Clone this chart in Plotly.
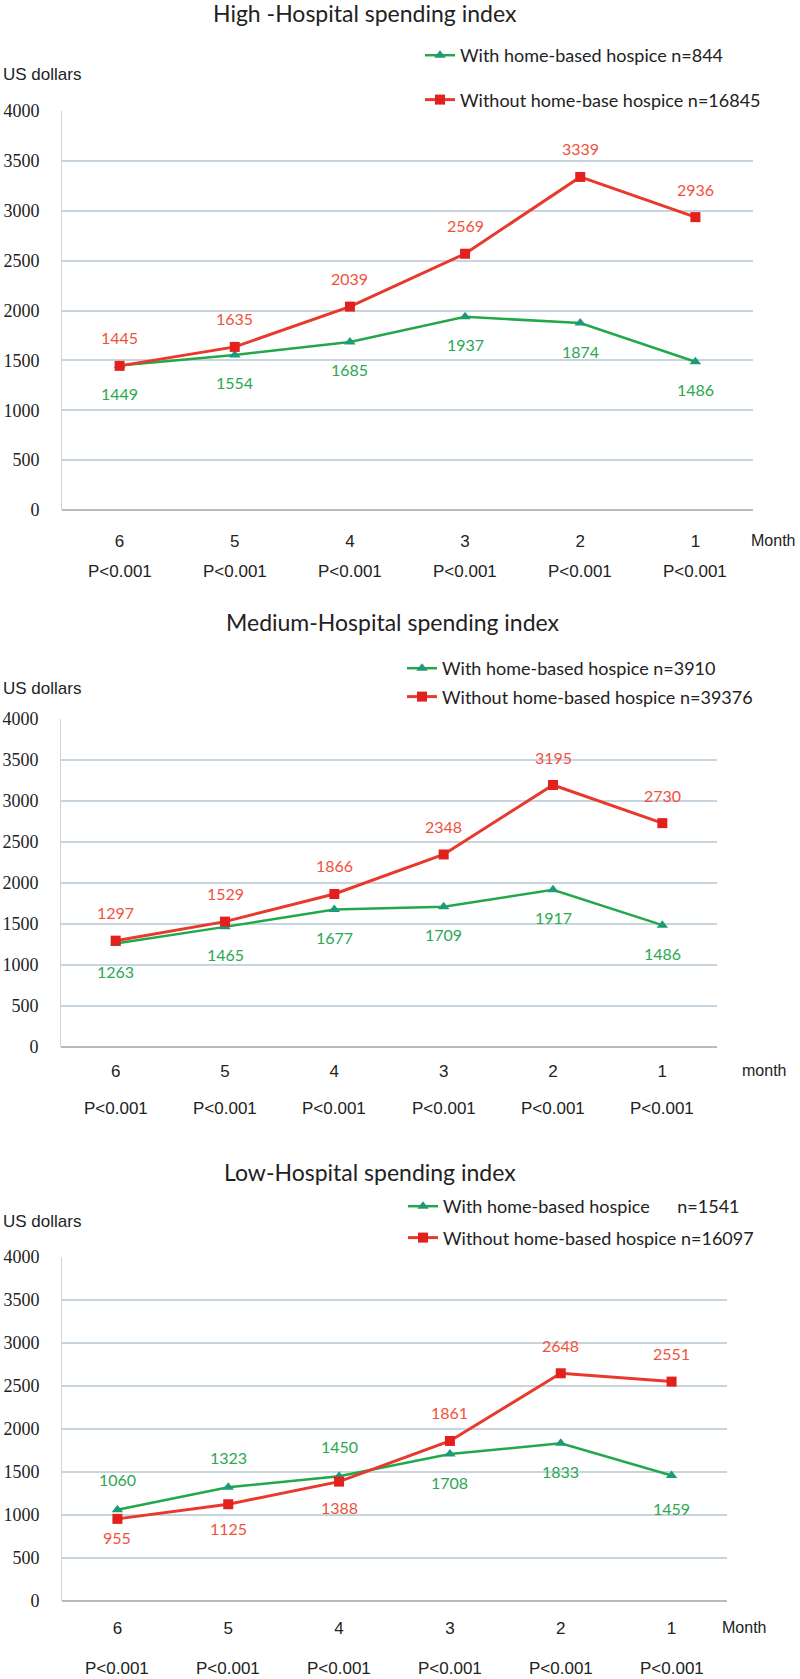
import plotly.graph_objects as go

# ---------------- data ----------------
months = ["6", "5", "4", "3", "2", "1"]
p_values = ["P<0.001", "P<0.001", "P<0.001", "P<0.001", "P<0.001", "P<0.001"]

high_with = [1449, 1554, 1685, 1937, 1874, 1486]
high_without = [1445, 1635, 2039, 2569, 3339, 2936]

med_with = [1263, 1465, 1677, 1709, 1917, 1486]
med_without = [1297, 1529, 1866, 2348, 3195, 2730]

low_with = [1060, 1323, 1450, 1708, 1833, 1459]
low_without = [955, 1125, 1388, 1861, 2648, 2551]

titles = ["High -Hospital spending index", "Medium-Hospital spending index", "Low-Hospital spending index"]
with_names = ["With home-based hospice n=844", "With home-based hospice n=3910",
              "With home-based hospice&#160;&#160;&#160;&#160;&#160;&#160;n=1541"]
without_names = ["Without home-base hospice n=16845", "Without home-based hospice n=39376",
                 "Without home-based hospice n=16097"]
month_words = ["Month", "month", "Month"]

# label offsets in px (+ above, - below)
with_shift = [[-28] * 6, [-28] * 6, [30, 30, 30, -28, -28, -33]]
without_shift = [[28] * 6, [28] * 6, [-19, -24, -26, 28, 28, 28]]

# ---------------- layout geometry (px) ----------------
W, H = 800, 1679
panels = [
    dict(l=62, r=753, top=111, bottom=510, title_y=13, title_x=365, usd_y=75,
         tick_y=540, p_y=571, month_x=749, leg_x=420, leg_top=37, leg_gap=18, standoff=19),
    dict(l=61, r=717, top=719, bottom=1047, title_y=622, title_x=393, usd_y=688,
         tick_y=1070, p_y=1108, month_x=740, leg_x=402, leg_top=650, leg_gap=2, standoff=12),
    dict(l=62, r=727, top=1257, bottom=1601, title_y=1172, title_x=370, usd_y=1221,
         tick_y=1627, p_y=1668, month_x=720, leg_x=403, leg_top=1188, leg_gap=5, standoff=15),
]
series = [(high_with, high_without), (med_with, med_without), (low_with, low_without)]

GREEN_LINE = "#22a84a"
GREEN_MARK = "#1f9a78"
GREEN_TEXT = "#2aa852"
RED_LINE = "#e8392c"
RED_MARK = "#e2201c"
RED_TEXT = "#f0523e"

LABEL_FONT = "Lato, Open Sans, sans-serif"
SANS = "Liberation Sans, Arial, sans-serif"
SERIF = "Liberation Serif, Times New Roman, serif"

fig = go.Figure()
annotations = []

for i, (p, (w_vals, wo_vals)) in enumerate(zip(panels, series)):
    sfx = "" if i == 0 else str(i + 1)
    xa, ya = "x" + sfx, "y" + sfx
    leg = "legend" + sfx

    fig.add_trace(go.Scatter(
        x=months, y=w_vals, xaxis=xa, yaxis=ya, mode="lines+markers",
        name=with_names[i], legend=leg, legendgroup=f"w{i}",
        line=dict(color=GREEN_LINE, width=2.5),
        marker=dict(symbol="triangle-up", size=10, color=GREEN_MARK),
    ))
    fig.add_trace(go.Scatter(
        x=months, y=wo_vals, xaxis=xa, yaxis=ya, mode="lines+markers",
        name=without_names[i], legend=leg, legendgroup=f"wo{i}",
        line=dict(color=RED_LINE, width=3),
        marker=dict(symbol="square", size=10, color=RED_MARK),
    ))

    xdom = [p["l"] / W, p["r"] / W]
    ydom = [1 - p["bottom"] / H, 1 - p["top"] / H]
    fig.update_layout(**{
        ("xaxis" + sfx): dict(
            domain=xdom, anchor=ya, type="category", range=[-0.5, 5.5],
            showgrid=False, showline=False, zeroline=False, ticks="",
            tickfont=dict(family=SANS, size=17, color="#222"),
            ticklabelstandoff=p["standoff"], automargin=False,
        ),
        ("yaxis" + sfx): dict(
            domain=ydom, anchor=xa, range=[0, 4000], dtick=500,
            showgrid=True, gridcolor="#c9d5de", gridwidth=2,
            zeroline=True, zerolinecolor="#b4bcc2", zerolinewidth=2,
            showline=True, linecolor="#cdd3d7", linewidth=1, ticks="",
            tickfont=dict(family=SERIF, size=18, color="#222"),
            ticklabelstandoff=18, automargin=False,
        ),
        leg: dict(
            x=p["leg_x"] / W, xanchor="left", y=1 - p["leg_top"] / H, yanchor="top",
            bgcolor="rgba(0,0,0,0)", font=dict(family=LABEL_FONT, size=18, color="#222"),
            tracegroupgap=p["leg_gap"], itemclick=False,
        ),
    })

    # data labels and p-values (category axis positions by index)
    for j in range(len(months)):
        annotations.append(dict(
            x=j, y=w_vals[j], xref=xa, yref=ya, text=str(w_vals[j]), showarrow=False,
            yshift=with_shift[i][j], font=dict(family=LABEL_FONT, size=16, color=GREEN_TEXT),
        ))
        annotations.append(dict(
            x=j, y=wo_vals[j], xref=xa, yref=ya, text=str(wo_vals[j]), showarrow=False,
            yshift=without_shift[i][j], font=dict(family=LABEL_FONT, size=16, color=RED_TEXT),
        ))
        annotations.append(dict(
            x=j, y=1 - p["p_y"] / H, xref=xa, yref="paper", text=p_values[j], showarrow=False,
            yanchor="middle", font=dict(family=SANS, size=17, color="#222"),
        ))

    annotations.append(dict(
        x=p["month_x"] / W, y=1 - p["tick_y"] / H, xref="paper", yref="paper", text=month_words[i],
        showarrow=False, xanchor="left", yanchor="middle",
        font=dict(family=SANS, size=16, color="#222"),
    ))
    annotations.append(dict(
        x=1 / W, y=1 - p["usd_y"] / H, xref="paper", yref="paper", text="US dollars",
        showarrow=False, xanchor="left", yanchor="middle",
        font=dict(family=SANS, size=17, color="#222"),
    ))
    annotations.append(dict(
        x=p["title_x"] / W, y=1 - p["title_y"] / H, xref="paper", yref="paper", text=titles[i],
        showarrow=False, xanchor="center", yanchor="middle",
        font=dict(family=LABEL_FONT, size=23, color="#222"),
    ))

fig.update_layout(
    width=W, height=H, margin=dict(l=0, r=0, t=0, b=0, autoexpand=False),
    paper_bgcolor="white", plot_bgcolor="white",
    showlegend=True, annotations=annotations,
)

fig.write_html(
    "out.html",
    config={"displayModeBar": False},
    post_script="document.body.style.margin='0';document.body.style.overflow='hidden';",
)
